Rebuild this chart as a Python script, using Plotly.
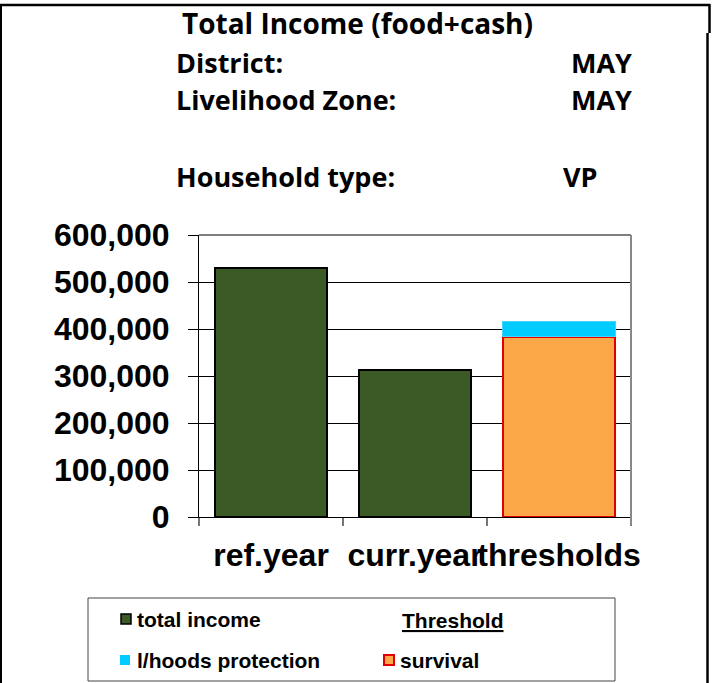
import plotly.graph_objects as go

# ---- data ----
categories = ["ref.year", "curr.year", "thresholds"]
total_income = [530000, 313000, None]
survival = [None, None, 383000]
lhoods_protection = [None, None, 34000]
y_ticks = [0, 100000, 200000, 300000, 400000, 500000, 600000]

title_text = "Total Income (food+cash)"
info_labels = ["District:", "Livelihood Zone:", "Household type:"]
info_values = ["MAY", "MAY", "VP"]

# ---- geometry (pixels) ----
W, H = 715, 683
PL, PR, PT, PB = 199, 631, 235, 517


def px(x):
    return (x - PL) / (PR - PL)


def py(y):
    return (PB - y) / (PB - PT)


GREEN = "#3B5A26"
ORANGE = "#FCA849"
RED = "#E00000"
CYAN = "#00CCFF"
TICKFONT = dict(family="Liberation Sans", size=32, color="black", weight="bold")
TITLEFONT = dict(family="Open Sans", size=28, color="black", weight="bold")
HDRFONT = dict(family="Open Sans", size=27, color="black", weight="bold")
LEGFONT = dict(family="Liberation Sans", size=21, color="black", weight="bold")

fig = go.Figure()
fig.add_trace(go.Bar(x=categories, y=total_income, name="total income",
                     marker=dict(color=GREEN, line=dict(color="black", width=2))))
fig.add_trace(go.Bar(x=categories, y=survival, name="survival",
                     marker=dict(color=ORANGE, line=dict(color=RED, width=2))))
fig.add_trace(go.Bar(x=categories, y=lhoods_protection, name="l/hoods protection",
                     marker=dict(color=CYAN, line=dict(color="#44D4FF", width=1))))

shapes = []
# plot-area top and right border
shapes.append(dict(type="line", xref="paper", yref="paper", x0=0, x1=1, y0=1, y1=1,
                   line=dict(color="black", width=1)))
shapes.append(dict(type="line", xref="paper", yref="paper", x0=1, x1=1, y0=py(525), y1=1,
                   line=dict(color="#888888", width=2)))
# outer frame
shapes.append(dict(type="line", xref="paper", yref="paper", x0=px(0), x1=px(710), y0=py(5), y1=py(5),
                   line=dict(color="black", width=2.5)))
shapes.append(dict(type="line", xref="paper", yref="paper", x0=px(1), x1=px(1), y0=py(5), y1=py(683),
                   line=dict(color="black", width=2)))
shapes.append(dict(type="line", xref="paper", yref="paper", x0=px(709.5), x1=px(709.5), y0=py(4), y1=py(33),
                   line=dict(color="black", width=2.5)))
shapes.append(dict(type="line", xref="paper", yref="paper", x0=px(707.5), x1=px(707.5), y0=py(33), y1=py(683),
                   line=dict(color="black", width=2.5)))
# legend box
shapes.append(dict(type="rect", xref="paper", yref="paper", x0=px(88), x1=px(615), y0=py(598), y1=py(681),
                   line=dict(color="#444444", width=1), fillcolor="white"))
# legend markers
shapes.append(dict(type="rect", xref="paper", yref="paper", x0=px(121), x1=px(131), y0=py(614), y1=py(624),
                   line=dict(color="black", width=1.5), fillcolor=GREEN))
shapes.append(dict(type="rect", xref="paper", yref="paper", x0=px(120), x1=px(130), y0=py(655), y1=py(665),
                   line=dict(width=0), fillcolor=CYAN))
shapes.append(dict(type="rect", xref="paper", yref="paper", x0=px(384), x1=px(394), y0=py(655), y1=py(665),
                   line=dict(color=RED, width=2), fillcolor=ORANGE))

ann = []


def add_text(text, x, y, font, xanchor="left"):
    ann.append(dict(text=text, x=px(x), y=py(y), xref="paper", yref="paper",
                    xanchor=xanchor, yanchor="middle", showarrow=False, font=font))


add_text(title_text, 357, 23, TITLEFONT, "center")
add_text(info_labels[0], 174, 62, HDRFONT)
add_text(info_labels[1], 174, 99, HDRFONT)
add_text(info_labels[2], 174, 176, HDRFONT)
add_text(info_values[0], 634, 62, HDRFONT, "right")
add_text(info_values[1], 634, 99, HDRFONT, "right")
add_text(info_values[2], 561, 176, HDRFONT)

add_text("total income", 135, 619, LEGFONT)
add_text("<u>Threshold</u>", 400, 620, LEGFONT)
add_text("l/hoods protection", 135, 660, LEGFONT)
add_text("survival", 398, 660, LEGFONT)

fig.update_layout(
    width=W, height=H,
    margin=dict(l=PL, r=W - PR, t=PT, b=H - PB, pad=0),
    paper_bgcolor="white", plot_bgcolor="white",
    barmode="stack", bargap=0.22,
    showlegend=False,
    shapes=shapes, annotations=ann,
    xaxis=dict(type="category", categoryorder="array", categoryarray=categories,
               showline=True, linecolor="black", linewidth=1, tickangle=0,
               ticks="outside", tickson="boundaries", ticklen=8, tickcolor="#777777", tickwidth=2,
               showgrid=False, tickfont=TICKFONT, ticklabelstandoff=10),
    yaxis=dict(range=[0, 600000], tickvals=y_ticks, tickformat=",",
               showline=True, linecolor="black", linewidth=1,
               ticks="outside", ticklen=10, tickcolor="black", tickwidth=1,
               showgrid=True, gridcolor="black", gridwidth=1, zeroline=False,
               tickfont=TICKFONT, ticklabelstandoff=12),
)

fig.write_html("out.html", config={"displayModeBar": False},
               post_script="document.body.style.margin='0';document.body.style.overflow='hidden';")
